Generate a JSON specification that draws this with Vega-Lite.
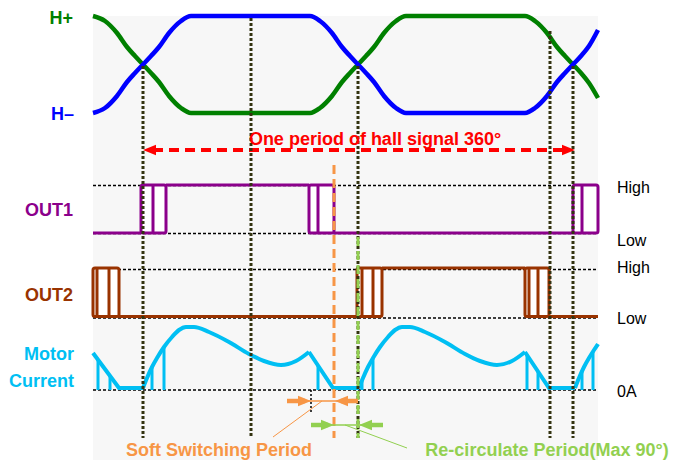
{
  "$schema": "https://vega.github.io/schema/vega-lite/v6.json",
  "width": 673,
  "height": 463,
  "autosize": {"type": "none"},
  "padding": 0,
  "background": "white",
  "config": {"view": {"stroke": null}, "text": {"font": "Liberation Sans"}},
  "datasets": {
    "bg": [{"x": 93, "x2": 598, "y": 16, "y2": 460}],
    "refs": [
      {"s": "Ref", "x": 93, "x2": 598, "y": 185.5},
      {"s": "Ref", "x": 93, "x2": 598, "y": 233.5},
      {"s": "Ref", "x": 93, "x2": 598, "y": 269.5},
      {"s": "Ref", "x": 93, "x2": 598, "y": 318},
      {"s": "Ref", "x": 93, "x2": 598, "y": 390}
    ],
    "hall": [
      {"s": "H+", "x": 93, "y": 16}, {"s": "H+", "x": 105, "y": 21}, {"s": "H+", "x": 117, "y": 33}, {"s": "H+", "x": 127, "y": 47}, {"s": "H+", "x": 135, "y": 56}, {"s": "H+", "x": 143, "y": 64.5}, {"s": "H+", "x": 151, "y": 73}, {"s": "H+", "x": 159, "y": 82}, {"s": "H+", "x": 169, "y": 96}, {"s": "H+", "x": 181, "y": 108}, {"s": "H+", "x": 191, "y": 113},
      {"s": "H+", "x": 310, "y": 113}, {"s": "H+", "x": 320, "y": 108}, {"s": "H+", "x": 332, "y": 96}, {"s": "H+", "x": 342, "y": 82}, {"s": "H+", "x": 350, "y": 73}, {"s": "H+", "x": 358, "y": 64.5}, {"s": "H+", "x": 366, "y": 56}, {"s": "H+", "x": 374, "y": 47}, {"s": "H+", "x": 384, "y": 33}, {"s": "H+", "x": 396, "y": 21}, {"s": "H+", "x": 406, "y": 16},
      {"s": "H+", "x": 525, "y": 16}, {"s": "H+", "x": 535, "y": 21}, {"s": "H+", "x": 547, "y": 33}, {"s": "H+", "x": 557, "y": 47}, {"s": "H+", "x": 565, "y": 56}, {"s": "H+", "x": 573, "y": 64.5}, {"s": "H+", "x": 581, "y": 73}, {"s": "H+", "x": 589, "y": 83}, {"s": "H+", "x": 598, "y": 98},
      {"s": "H-", "x": 93, "y": 113}, {"s": "H-", "x": 105, "y": 108}, {"s": "H-", "x": 117, "y": 96}, {"s": "H-", "x": 127, "y": 82}, {"s": "H-", "x": 135, "y": 73}, {"s": "H-", "x": 143, "y": 64.5}, {"s": "H-", "x": 151, "y": 56}, {"s": "H-", "x": 159, "y": 47}, {"s": "H-", "x": 169, "y": 33}, {"s": "H-", "x": 181, "y": 21}, {"s": "H-", "x": 191, "y": 16},
      {"s": "H-", "x": 310, "y": 16}, {"s": "H-", "x": 320, "y": 21}, {"s": "H-", "x": 332, "y": 33}, {"s": "H-", "x": 342, "y": 47}, {"s": "H-", "x": 350, "y": 56}, {"s": "H-", "x": 358, "y": 64.5}, {"s": "H-", "x": 366, "y": 73}, {"s": "H-", "x": 374, "y": 82}, {"s": "H-", "x": 384, "y": 96}, {"s": "H-", "x": 396, "y": 108}, {"s": "H-", "x": 406, "y": 113},
      {"s": "H-", "x": 525, "y": 113}, {"s": "H-", "x": 535, "y": 108}, {"s": "H-", "x": 547, "y": 96}, {"s": "H-", "x": 557, "y": 82}, {"s": "H-", "x": 565, "y": 73}, {"s": "H-", "x": 573, "y": 64.5}, {"s": "H-", "x": 581, "y": 56}, {"s": "H-", "x": 589, "y": 46}, {"s": "H-", "x": 598, "y": 30}
    ],
    "outSeg": [
      {"s": "OUT1", "x": 93, "x2": 141, "y": 233},
      {"s": "OUT1", "x": 166, "x2": 309, "y": 185},
      {"s": "OUT1", "x": 334, "x2": 573, "y": 233},
      {"s": "OUT2", "x": 119, "x2": 357, "y": 316.5},
      {"s": "OUT2", "x": 382, "x2": 525, "y": 268},
      {"s": "OUT2", "x": 549, "x2": 598, "y": 316.5}
    ],
    "outBox": [
      {"s": "OUT1", "x": 141, "x2": 166, "y": 185, "y2": 233},
      {"s": "OUT1", "x": 309, "x2": 334, "y": 185, "y2": 233},
      {"s": "OUT1", "x": 573, "x2": 598, "y": 185, "y2": 233},
      {"s": "OUT2", "x": 93, "x2": 119, "y": 268, "y2": 316.5},
      {"s": "OUT2", "x": 357, "x2": 382, "y": 268, "y2": 316.5},
      {"s": "OUT2", "x": 525, "x2": 549, "y": 268, "y2": 316.5}
    ],
    "outBar": [
      {"s": "OUT1", "x": 153, "y": 185, "y2": 233},
      {"s": "OUT1", "x": 318, "y": 185, "y2": 233},
      {"s": "OUT1", "x": 582, "y": 185, "y2": 233},
      {"s": "OUT2", "x": 97, "y": 268, "y2": 316.5},
      {"s": "OUT2", "x": 109, "y": 268, "y2": 316.5},
      {"s": "OUT2", "x": 362, "y": 268, "y2": 316.5},
      {"s": "OUT2", "x": 373, "y": 268, "y2": 316.5},
      {"s": "OUT2", "x": 529, "y": 268, "y2": 316.5},
      {"s": "OUT2", "x": 538, "y": 268, "y2": 316.5}
    ],
    "curCurve": [
      {"s": "Current", "seg": "B", "x": 143, "y": 388}, {"s": "Current", "seg": "B", "x": 147, "y": 378}, {"s": "Current", "seg": "B", "x": 152, "y": 367}, {"s": "Current", "seg": "B", "x": 157, "y": 358}, {"s": "Current", "seg": "B", "x": 164, "y": 347}, {"s": "Current", "seg": "B", "x": 172, "y": 337}, {"s": "Current", "seg": "B", "x": 179, "y": 330}, {"s": "Current", "seg": "B", "x": 186, "y": 327}, {"s": "Current", "seg": "B", "x": 194, "y": 327}, {"s": "Current", "seg": "B", "x": 209, "y": 332}, {"s": "Current", "seg": "B", "x": 229, "y": 342}, {"s": "Current", "seg": "B", "x": 249, "y": 354}, {"s": "Current", "seg": "B", "x": 264, "y": 361}, {"s": "Current", "seg": "B", "x": 281, "y": 365}, {"s": "Current", "seg": "B", "x": 296, "y": 361}, {"s": "Current", "seg": "B", "x": 309, "y": 352},
      {"s": "Current", "seg": "C", "x": 359, "y": 388}, {"s": "Current", "seg": "C", "x": 363, "y": 378}, {"s": "Current", "seg": "C", "x": 368, "y": 367}, {"s": "Current", "seg": "C", "x": 373, "y": 358}, {"s": "Current", "seg": "C", "x": 380, "y": 347}, {"s": "Current", "seg": "C", "x": 388, "y": 337}, {"s": "Current", "seg": "C", "x": 395, "y": 330}, {"s": "Current", "seg": "C", "x": 402, "y": 327}, {"s": "Current", "seg": "C", "x": 410, "y": 327}, {"s": "Current", "seg": "C", "x": 425, "y": 332}, {"s": "Current", "seg": "C", "x": 445, "y": 342}, {"s": "Current", "seg": "C", "x": 465, "y": 354}, {"s": "Current", "seg": "C", "x": 480, "y": 361}, {"s": "Current", "seg": "C", "x": 497, "y": 365}, {"s": "Current", "seg": "C", "x": 512, "y": 361}, {"s": "Current", "seg": "C", "x": 525, "y": 352},
      {"s": "Current", "seg": "D", "x": 575, "y": 388}, {"s": "Current", "seg": "D", "x": 579, "y": 378}, {"s": "Current", "seg": "D", "x": 584, "y": 367}, {"s": "Current", "seg": "D", "x": 589, "y": 358}, {"s": "Current", "seg": "D", "x": 594, "y": 350}, {"s": "Current", "seg": "D", "x": 598, "y": 344}
    ],
    "curLin": [
      {"s": "Current", "seg": "A", "x": 93, "y": 353}, {"s": "Current", "seg": "A", "x": 119, "y": 388}, {"s": "Current", "seg": "A", "x": 143, "y": 388},
      {"s": "Current", "seg": "E", "x": 309, "y": 352}, {"s": "Current", "seg": "E", "x": 333, "y": 388}, {"s": "Current", "seg": "E", "x": 359, "y": 388},
      {"s": "Current", "seg": "F", "x": 525, "y": 352}, {"s": "Current", "seg": "F", "x": 549, "y": 388}, {"s": "Current", "seg": "F", "x": 575, "y": 388}
    ],
    "curBar": [
      {"s": "Current", "x": 98, "y": 360, "y2": 390},
      {"s": "Current", "x": 110, "y": 376, "y2": 390},
      {"s": "Current", "x": 152, "y": 367, "y2": 390},
      {"s": "Current", "x": 164, "y": 347, "y2": 390},
      {"s": "Current", "x": 318, "y": 366, "y2": 390},
      {"s": "Current", "x": 362, "y": 380, "y2": 390},
      {"s": "Current", "x": 373, "y": 358, "y2": 390},
      {"s": "Current", "x": 527, "y": 355, "y2": 390},
      {"s": "Current", "x": 538, "y": 371, "y2": 390},
      {"s": "Current", "x": 582, "y": 371, "y2": 390},
      {"s": "Current", "x": 593, "y": 352, "y2": 390}
    ],
    "markers": [
      {"s": "Marker", "x": 143, "y": 66, "y2": 438},
      {"s": "Marker", "x": 251, "y": 18, "y2": 438},
      {"s": "Marker", "x": 358, "y": 66, "y2": 438},
      {"s": "Marker", "x": 550, "y": 31, "y2": 438},
      {"s": "Marker", "x": 573, "y": 66, "y2": 438}
    ],
    "smallMark": [{"s": "Ref", "x": 311, "y": 390, "y2": 414}],
    "dashV": [
      {"s": "Soft", "x": 334, "y": 165, "y2": 438},
      {"s": "Recirc", "x": 358, "y": 237, "y2": 438}
    ],
    "periodShaft": [{"s": "Period", "x": 153, "x2": 566, "y": 150}],
    "shafts": [
      {"s": "Soft", "x": 287, "x2": 305, "y": 401},
      {"s": "Soft", "x": 341, "x2": 358, "y": 401},
      {"s": "Recirc", "x": 311, "x2": 328, "y": 425},
      {"s": "Recirc", "x": 366, "x2": 383, "y": 425}
    ],
    "thin": [
      {"s": "Soft", "x": 305, "x2": 341, "y": 401},
      {"s": "Recirc", "x": 328, "x2": 366, "y": 425}
    ],
    "leaders": [
      {"s": "Soft", "x": 322, "y": 401, "x2": 273, "y2": 437},
      {"s": "Recirc", "x": 345, "y": 425, "x2": 407, "y2": 448}
    ],
    "heads": [
      {"s": "Period", "dir": "left", "x": 149.5, "y": 150},
      {"s": "Period", "dir": "right", "x": 568.5, "y": 150},
      {"s": "Soft", "dir": "right", "x": 304.5, "y": 401},
      {"s": "Soft", "dir": "left", "x": 341.5, "y": 401},
      {"s": "Recirc", "dir": "right", "x": 327.5, "y": 425},
      {"s": "Recirc", "dir": "left", "x": 365.5, "y": 425}
    ],
    "labelsLeft": [
      {"s": "H+", "t": "H+", "x": 73, "y": 24},
      {"s": "H-", "t": "H–", "x": 74, "y": 120},
      {"s": "OUT1", "t": "OUT1", "x": 73, "y": 216},
      {"s": "OUT2", "t": "OUT2", "x": 73, "y": 301},
      {"s": "Current", "t": "Motor", "x": 74, "y": 360},
      {"s": "Current", "t": "Current", "x": 74, "y": 387}
    ],
    "labelsCenter": [
      {"s": "Period", "t": "One period of hall signal 360°", "x": 375, "y": 145},
      {"s": "Soft", "t": "Soft Switching Period", "x": 219, "y": 456},
      {"s": "Recirc", "t": "Re-circulate Period(Max 90°)", "x": 547, "y": 456}
    ],
    "labelsRight": [
      {"s": "Ref", "t": "High", "x": 617, "y": 193},
      {"s": "Ref", "t": "Low", "x": 617, "y": 246},
      {"s": "Ref", "t": "High", "x": 617, "y": 273},
      {"s": "Ref", "t": "Low", "x": 617, "y": 324},
      {"s": "Ref", "t": "0A", "x": 617, "y": 397}
    ]
  },
  "encoding": {
    "x": {"field": "x", "type": "quantitative", "scale": {"domain": [0, 673], "nice": false, "zero": false}, "axis": null},
    "y": {"field": "y", "type": "quantitative", "scale": {"domain": [0, 463], "nice": false, "zero": false, "reverse": true}, "axis": null}
  },
  "layer": [
    {
      "data": {"name": "bg"},
      "mark": {"type": "rect", "fill": "#f7f7f7"},
      "encoding": {"x2": {"field": "x2"}, "y2": {"field": "y2"}}
    },
    {
      "data": {"name": "refs"},
      "mark": {"type": "rule", "strokeWidth": 1.5, "strokeDash": [3, 2]},
      "encoding": {"x2": {"field": "x2"}, "color": {"field": "s", "type": "nominal", "scale": {"domain": ["H+", "H-", "OUT1", "OUT2", "Current", "Period", "Soft", "Recirc", "Ref", "Marker"], "range": ["#008000", "#0000FF", "#8B008B", "#993300", "#00BFF3", "#FF0000", "#F79646", "#92D050", "#000000", "#333310"]}, "legend": null}}
    },
    {
      "data": {"name": "hall"},
      "mark": {"type": "line", "strokeWidth": 4.5, "interpolate": "monotone"},
      "encoding": {"color": {"field": "s", "type": "nominal", "scale": {"domain": ["H+", "H-", "OUT1", "OUT2", "Current", "Period", "Soft", "Recirc", "Ref", "Marker"], "range": ["#008000", "#0000FF", "#8B008B", "#993300", "#00BFF3", "#FF0000", "#F79646", "#92D050", "#000000", "#333310"]}, "legend": null}}
    },
    {
      "data": {"name": "outSeg"},
      "mark": {"type": "rule", "strokeWidth": 3},
      "encoding": {"x2": {"field": "x2"}, "color": {"field": "s", "type": "nominal", "scale": {"domain": ["H+", "H-", "OUT1", "OUT2", "Current", "Period", "Soft", "Recirc", "Ref", "Marker"], "range": ["#008000", "#0000FF", "#8B008B", "#993300", "#00BFF3", "#FF0000", "#F79646", "#92D050", "#000000", "#333310"]}, "legend": null}}
    },
    {
      "data": {"name": "outBox"},
      "mark": {"type": "rect", "fill": "white", "strokeWidth": 3, "cornerRadius": 2},
      "encoding": {"x2": {"field": "x2"}, "y2": {"field": "y2"}, "stroke": {"field": "s", "type": "nominal", "scale": {"domain": ["OUT1", "OUT2"], "range": ["#8B008B", "#993300"]}, "legend": null}}
    },
    {
      "data": {"name": "outBar"},
      "mark": {"type": "rule", "strokeWidth": 3},
      "encoding": {"y2": {"field": "y2"}, "color": {"field": "s", "type": "nominal", "scale": {"domain": ["H+", "H-", "OUT1", "OUT2", "Current", "Period", "Soft", "Recirc", "Ref", "Marker"], "range": ["#008000", "#0000FF", "#8B008B", "#993300", "#00BFF3", "#FF0000", "#F79646", "#92D050", "#000000", "#333310"]}, "legend": null}}
    },
    {
      "data": {"name": "curBar"},
      "mark": {"type": "rule", "strokeWidth": 3},
      "encoding": {"y2": {"field": "y2"}, "color": {"field": "s", "type": "nominal", "scale": {"domain": ["H+", "H-", "OUT1", "OUT2", "Current", "Period", "Soft", "Recirc", "Ref", "Marker"], "range": ["#008000", "#0000FF", "#8B008B", "#993300", "#00BFF3", "#FF0000", "#F79646", "#92D050", "#000000", "#333310"]}, "legend": null}}
    },
    {
      "data": {"name": "curCurve"},
      "mark": {"type": "line", "strokeWidth": 4, "interpolate": "monotone"},
      "encoding": {"detail": {"field": "seg"}, "color": {"field": "s", "type": "nominal", "scale": {"domain": ["H+", "H-", "OUT1", "OUT2", "Current", "Period", "Soft", "Recirc", "Ref", "Marker"], "range": ["#008000", "#0000FF", "#8B008B", "#993300", "#00BFF3", "#FF0000", "#F79646", "#92D050", "#000000", "#333310"]}, "legend": null}}
    },
    {
      "data": {"name": "curLin"},
      "mark": {"type": "line", "strokeWidth": 4, "interpolate": "linear", "strokeJoin": "miter"},
      "encoding": {"detail": {"field": "seg"}, "color": {"field": "s", "type": "nominal", "scale": {"domain": ["H+", "H-", "OUT1", "OUT2", "Current", "Period", "Soft", "Recirc", "Ref", "Marker"], "range": ["#008000", "#0000FF", "#8B008B", "#993300", "#00BFF3", "#FF0000", "#F79646", "#92D050", "#000000", "#333310"]}, "legend": null}}
    },
    {
      "data": {"name": "periodShaft"},
      "mark": {"type": "rule", "strokeWidth": 4, "strokeDash": [10, 6]},
      "encoding": {"x2": {"field": "x2"}, "color": {"field": "s", "type": "nominal", "scale": {"domain": ["H+", "H-", "OUT1", "OUT2", "Current", "Period", "Soft", "Recirc", "Ref", "Marker"], "range": ["#008000", "#0000FF", "#8B008B", "#993300", "#00BFF3", "#FF0000", "#F79646", "#92D050", "#000000", "#333310"]}, "legend": null}}
    },
    {
      "data": {"name": "markers"},
      "mark": {"type": "rule", "strokeWidth": 3, "strokeDash": [3, 2]},
      "encoding": {"y2": {"field": "y2"}, "color": {"field": "s", "type": "nominal", "scale": {"domain": ["H+", "H-", "OUT1", "OUT2", "Current", "Period", "Soft", "Recirc", "Ref", "Marker"], "range": ["#008000", "#0000FF", "#8B008B", "#993300", "#00BFF3", "#FF0000", "#F79646", "#92D050", "#000000", "#333310"]}, "legend": null}}
    },
    {
      "data": {"name": "smallMark"},
      "mark": {"type": "rule", "strokeWidth": 1.5, "strokeDash": [2, 2]},
      "encoding": {"y2": {"field": "y2"}, "color": {"field": "s", "type": "nominal", "scale": {"domain": ["H+", "H-", "OUT1", "OUT2", "Current", "Period", "Soft", "Recirc", "Ref", "Marker"], "range": ["#008000", "#0000FF", "#8B008B", "#993300", "#00BFF3", "#FF0000", "#F79646", "#92D050", "#000000", "#333310"]}, "legend": null}}
    },
    {
      "data": {"name": "dashV"},
      "mark": {"type": "rule", "strokeWidth": 3, "strokeDash": [9, 5]},
      "encoding": {"y2": {"field": "y2"}, "color": {"field": "s", "type": "nominal", "scale": {"domain": ["H+", "H-", "OUT1", "OUT2", "Current", "Period", "Soft", "Recirc", "Ref", "Marker"], "range": ["#008000", "#0000FF", "#8B008B", "#993300", "#00BFF3", "#FF0000", "#F79646", "#92D050", "#000000", "#333310"]}, "legend": null}}
    },
    {
      "data": {"name": "thin"},
      "mark": {"type": "rule", "strokeWidth": 1.5},
      "encoding": {"x2": {"field": "x2"}, "color": {"field": "s", "type": "nominal", "scale": {"domain": ["H+", "H-", "OUT1", "OUT2", "Current", "Period", "Soft", "Recirc", "Ref", "Marker"], "range": ["#008000", "#0000FF", "#8B008B", "#993300", "#00BFF3", "#FF0000", "#F79646", "#92D050", "#000000", "#333310"]}, "legend": null}}
    },
    {
      "data": {"name": "leaders"},
      "mark": {"type": "rule", "strokeWidth": 1},
      "encoding": {"x2": {"field": "x2"}, "y2": {"field": "y2"}, "color": {"field": "s", "type": "nominal", "scale": {"domain": ["H+", "H-", "OUT1", "OUT2", "Current", "Period", "Soft", "Recirc", "Ref", "Marker"], "range": ["#008000", "#0000FF", "#8B008B", "#993300", "#00BFF3", "#FF0000", "#F79646", "#92D050", "#000000", "#333310"]}, "legend": null}}
    },
    {
      "data": {"name": "shafts"},
      "mark": {"type": "rule", "strokeWidth": 4.5},
      "encoding": {"x2": {"field": "x2"}, "color": {"field": "s", "type": "nominal", "scale": {"domain": ["H+", "H-", "OUT1", "OUT2", "Current", "Period", "Soft", "Recirc", "Ref", "Marker"], "range": ["#008000", "#0000FF", "#8B008B", "#993300", "#00BFF3", "#FF0000", "#F79646", "#92D050", "#000000", "#333310"]}, "legend": null}}
    },
    {
      "data": {"name": "heads"},
      "mark": {"type": "point", "filled": true, "opacity": 1, "size": 169, "strokeWidth": 0},
      "encoding": {
        "shape": {"field": "dir", "type": "nominal", "scale": {"domain": ["right", "left"], "range": ["M-1,-0.8L1,0L-1,0.8Z", "M1,-0.8L-1,0L1,0.8Z"]}, "legend": null},
        "color": {"field": "s", "type": "nominal", "scale": {"domain": ["H+", "H-", "OUT1", "OUT2", "Current", "Period", "Soft", "Recirc", "Ref", "Marker"], "range": ["#008000", "#0000FF", "#8B008B", "#993300", "#00BFF3", "#FF0000", "#F79646", "#92D050", "#000000", "#333310"]}, "legend": null}
      }
    },
    {
      "data": {"name": "labelsLeft"},
      "mark": {"type": "text", "align": "right", "baseline": "alphabetic", "fontSize": 18, "fontWeight": "bold"},
      "encoding": {"text": {"field": "t"}, "color": {"field": "s", "type": "nominal", "scale": {"domain": ["H+", "H-", "OUT1", "OUT2", "Current", "Period", "Soft", "Recirc", "Ref", "Marker"], "range": ["#008000", "#0000FF", "#8B008B", "#993300", "#00BFF3", "#FF0000", "#F79646", "#92D050", "#000000", "#333310"]}, "legend": null}}
    },
    {
      "data": {"name": "labelsCenter"},
      "mark": {"type": "text", "align": "center", "baseline": "alphabetic", "fontSize": 18, "fontWeight": "bold"},
      "encoding": {"text": {"field": "t"}, "color": {"field": "s", "type": "nominal", "scale": {"domain": ["H+", "H-", "OUT1", "OUT2", "Current", "Period", "Soft", "Recirc", "Ref", "Marker"], "range": ["#008000", "#0000FF", "#8B008B", "#993300", "#00BFF3", "#FF0000", "#F79646", "#92D050", "#000000", "#333310"]}, "legend": null}}
    },
    {
      "data": {"name": "labelsRight"},
      "mark": {"type": "text", "align": "left", "baseline": "alphabetic", "fontSize": 16},
      "encoding": {"text": {"field": "t"}, "color": {"field": "s", "type": "nominal", "scale": {"domain": ["H+", "H-", "OUT1", "OUT2", "Current", "Period", "Soft", "Recirc", "Ref", "Marker"], "range": ["#008000", "#0000FF", "#8B008B", "#993300", "#00BFF3", "#FF0000", "#F79646", "#92D050", "#000000", "#333310"]}, "legend": null}}
    }
  ]
}
